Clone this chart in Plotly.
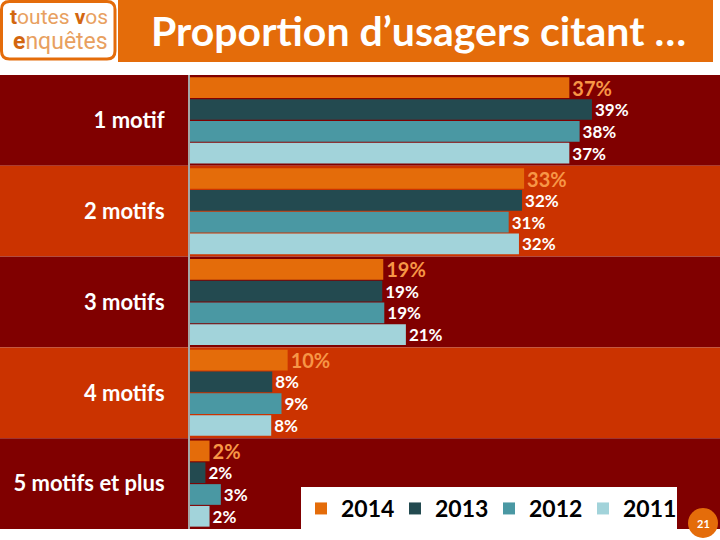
import plotly.graph_objects as go

categories = ["1 motif", "2 motifs", "3 motifs", "4 motifs", "5 motifs et plus"]
years = ["2014", "2013", "2012", "2011"]
v2014 = [36.9, 32.5, 18.8, 9.5, 1.9]
v2013 = [39.1, 32.3, 18.7, 8.0, 1.5]
v2012 = [37.9, 31.0, 18.9, 8.9, 3.0]
v2011 = [36.9, 32.0, 21.0, 7.9, 1.9]
t2014 = ["37%", "33%", "19%", "10%", "2%"]
t2013 = ["39%", "32%", "19%", "8%", "2%"]
t2012 = ["38%", "31%", "19%", "9%", "3%"]
t2011 = ["37%", "32%", "21%", "8%", "2%"]

values = [v2014, v2013, v2012, v2011]
texts = [t2014, t2013, t2012, t2011]
colors = ["#E46C0A", "#234A50", "#4A98A3", "#A2D3DA"]
label_colors = ["#F79646", "white", "white", "white"]
label_sizes = [20, 17, 17, 17]

# layout geometry (pixels)
L, R, T, B = 190, 720, 75, 529
W, H = R - L, B - T
def px(x):
    return (x - L) / W
def py(y):
    return (B - y) / H

FONT = "Lato, 'Open Sans', sans-serif"
LOGO_FONT = "Roboto, 'Open Sans', sans-serif"

fig = go.Figure()
for name, vals, txt, c, lc, ls in zip(years, values, texts, colors, label_colors, label_sizes):
    fig.add_trace(go.Bar(
        y=categories, x=vals, name=name, orientation="h",
        marker=dict(color=c, line=dict(width=0)),
        text=txt, textposition="outside", cliponaxis=False,
        constraintext="none",
        textfont=dict(color=lc, size=ls, family=FONT, weight="bold"),
        hoverinfo="skip",
    ))

shapes = []
band_colors = ["#800000", "#CB3300"]
bh = H / 5
for i in range(5):
    shapes.append(dict(type="rect", xref="paper", yref="paper",
                       x0=px(0), x1=px(720), y0=py(T + bh * (i + 1)), y1=py(T + bh * i),
                       fillcolor=band_colors[i % 2], line=dict(width=0), layer="below"))
# title bar
shapes.append(dict(type="rect", xref="paper", yref="paper",
                   x0=px(118), x1=px(713), y0=py(62), y1=py(0),
                   fillcolor="#E46C0A", line=dict(width=0), layer="below"))
# logo box
r = 8
x0, x1, y0, y1 = 1.5, 115, 1.5, 59
path = (f"M{px(x0+r)},{py(y0)} L{px(x1-r)},{py(y0)} Q{px(x1)},{py(y0)} {px(x1)},{py(y0+r)} "
        f"L{px(x1)},{py(y1-r)} Q{px(x1)},{py(y1)} {px(x1-r)},{py(y1)} "
        f"L{px(x0+r)},{py(y1)} Q{px(x0)},{py(y1)} {px(x0)},{py(y1-r)} "
        f"L{px(x0)},{py(y0+r)} Q{px(x0)},{py(y0)} {px(x0+r)},{py(y0)} Z")
shapes.append(dict(type="path", xref="paper", yref="paper", path=path,
                   fillcolor="white", line=dict(color="#E46C0A", width=3), layer="above"))
# page number circle
shapes.append(dict(type="circle", xref="paper", yref="paper",
                   x0=px(688), x1=px(718), y0=py(538), y1=py(508),
                   fillcolor="#E46C0A", line=dict(width=0), layer="above"))

annotations = [
    dict(text="Proportion d’usagers citant …", xref="paper", yref="paper",
         x=px(149), y=py(31), xanchor="left", yanchor="middle", showarrow=False,
         font=dict(color="white", size=41, family=FONT, weight="bold")),
    dict(text="<b style='color:#D2660F'>t</b>outes <b style='color:#D2660F'>v</b>os",
         xref="paper", yref="paper", x=px(59), y=py(17), xanchor="center", yanchor="middle",
         showarrow=False,
         font=dict(color="#E8A060", size=21, family=LOGO_FONT)),
    dict(text="<b style='color:#D2660F'>e</b>nquêtes",
         xref="paper", yref="paper", x=px(60), y=py(42), xanchor="center", yanchor="middle",
         showarrow=False,
         font=dict(color="#E8A060", size=23, family=LOGO_FONT)),
    dict(text="21", xref="paper", yref="paper", x=px(703), y=py(523),
         xanchor="center", yanchor="middle", showarrow=False,
         font=dict(color="white", size=11, family=FONT, weight="bold")),
]

fig.update_layout(
    width=720, height=540,
    margin=dict(l=L, r=720 - R, t=T, b=540 - B, pad=0),
    paper_bgcolor="white", plot_bgcolor="rgba(0,0,0,0)",
    barmode="group", bargap=0.04, bargroupgap=0.05,
    shapes=shapes, annotations=annotations,
    showlegend=True,
    legend=dict(orientation="h", x=px(301), y=py(487), xanchor="left", yanchor="top",
                bgcolor="white", borderwidth=0, traceorder="normal",
                entrywidth=49, entrywidthmode="pixels",
                font=dict(color="black", size=23, family=FONT, weight="bold"),
                itemclick=False),
    xaxis=dict(range=[0, W / 10.28], showgrid=False, zeroline=False, showticklabels=False,
               showline=False, fixedrange=True),
    yaxis=dict(type="category", categoryorder="array", categoryarray=categories,
               range=[4.5, -0.5], showgrid=False, zeroline=False,
               showline=True, linecolor="#A6A6A6", linewidth=2,
               ticks="", ticklabelstandoff=19,
               tickfont=dict(color="white", size=22, family=FONT, weight="bold")),
)

fig.write_html("out.html", config={"displayModeBar": False},
               post_script="document.body.style.margin='0';document.body.style.overflow='hidden';")
